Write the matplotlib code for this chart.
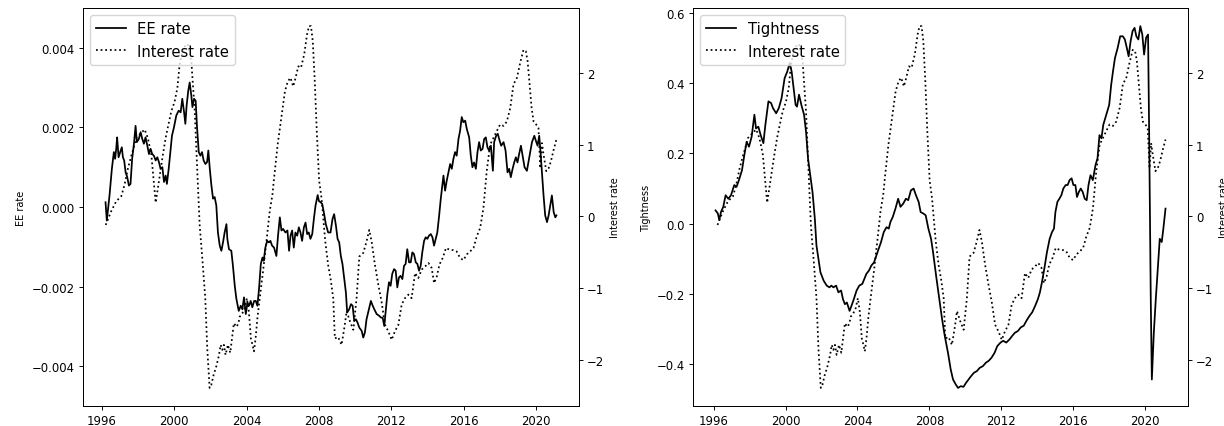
import matplotlib
matplotlib.use("Agg")
import matplotlib.pyplot as plt

# Interest rate (standardised) - shared by both panels
rate_year = [1996.22, 1996.52, 1996.80, 1997.08, 1997.26, 1997.45, 1997.63, 1997.76, 1997.91, 1998.09,
             1998.37, 1998.55, 1998.74, 1998.87, 1998.98, 1999.10, 1999.24, 1999.38, 1999.53, 1999.66,
             1999.84, 2000.03, 2000.18, 2000.30, 2000.50, 2000.75, 2000.95, 2001.14, 2001.25, 2001.41,
             2001.57, 2001.72, 2001.83, 2001.96, 2002.05, 2002.18, 2002.33, 2002.48, 2002.57, 2002.66,
             2002.75, 2002.84, 2002.97, 2003.10, 2003.20, 2003.30, 2003.45, 2003.55, 2003.62, 2003.77,
             2003.90, 2004.02, 2004.13, 2004.24, 2004.33, 2004.41, 2004.50, 2004.60, 2004.73, 2004.91,
             2005.10, 2005.28, 2005.43, 2005.52, 2005.72, 2005.92, 2006.12, 2006.28, 2006.43, 2006.58,
             2006.71, 2006.86, 2007.01, 2007.19, 2007.34, 2007.45, 2007.56, 2007.66, 2007.77, 2007.88,
             2008.01, 2008.14, 2008.35, 2008.51, 2008.65, 2008.79, 2008.88, 2009.06, 2009.25, 2009.43,
             2009.53, 2009.71, 2009.90, 2010.08, 2010.23, 2010.45, 2010.63, 2010.78, 2010.91, 2011.09,
             2011.28, 2011.46, 2011.65, 2011.83, 2012.02, 2012.20, 2012.39, 2012.57, 2012.75, 2012.94,
             2013.12, 2013.31, 2013.49, 2013.68, 2013.86, 2014.05, 2014.23, 2014.36, 2014.51, 2014.66,
             2014.84, 2015.02, 2015.25, 2015.43, 2015.61, 2015.80, 2015.98, 2016.17, 2016.35, 2016.54,
             2016.72, 2016.91, 2017.09, 2017.27, 2017.46, 2017.64, 2017.83, 2018.01, 2018.20, 2018.38,
             2018.57, 2018.75, 2018.94, 2019.12, 2019.30, 2019.43, 2019.53, 2019.64, 2019.75, 2019.86,
             2020.00, 2020.13, 2020.23, 2020.32, 2020.41, 2020.56, 2020.69, 2020.82, 2020.97, 2021.12]
rate = [-0.12, 0.07, 0.21, 0.28, 0.44, 0.67, 0.84, 0.95, 1.09, 1.14,
        1.21, 1.09, 0.86, 0.49, 0.19, 0.39, 0.63, 0.86, 1.09, 1.25,
        1.46, 1.60, 1.79, 2.11, 2.35, 2.40, 2.16, 1.46, 0.80, -0.12,
        -0.63, -1.14, -1.84, -2.39, -2.35, -2.21, -2.09, -1.93, -1.79, -1.86,
        -1.79, -1.93, -1.79, -1.90, -1.70, -1.49, -1.54, -1.49, -1.40, -1.35,
        -1.28, -1.14, -1.33, -1.70, -1.79, -1.88, -1.70, -1.42, -1.14, -0.77,
        -0.35, 0.07, 0.30, 0.53, 1.00, 1.37, 1.74, 1.88, 1.93, 1.81,
        1.93, 2.09, 2.07, 2.26, 2.53, 2.65, 2.65, 2.44, 1.88, 1.19,
        0.50, 0.26, -0.35, -0.68, -0.88, -1.14, -1.70, -1.68, -1.79, -1.51,
        -1.32, -1.46, -1.58, -1.14, -0.56, -0.51, -0.35, -0.19, -0.35, -0.67,
        -0.95, -1.19, -1.51, -1.60, -1.72, -1.60, -1.51, -1.23, -1.14, -1.09,
        -1.14, -0.79, -0.86, -0.74, -0.70, -0.65, -0.72, -0.93, -0.84, -0.67,
        -0.58, -0.44, -0.47, -0.47, -0.49, -0.58, -0.61, -0.53, -0.49, -0.44,
        -0.28, -0.16, 0.12, 0.63, 1.00, 1.09, 1.19, 1.28, 1.26, 1.32,
        1.51, 1.84, 1.93, 2.14, 2.32, 2.30, 2.16, 1.84, 1.51, 1.32,
        1.28, 1.23, 0.67, 1.02, 0.86, 0.63, 0.67, 0.77, 0.93, 1.07]

# EE rate, in units of 1e-3
ee_year = [1996.21, 1996.28, 1996.43, 1996.56, 1996.67, 1996.74, 1996.80, 1996.85, 1996.93, 1997.02,
           1997.11, 1997.17, 1997.24, 1997.32, 1997.41, 1997.50, 1997.59, 1997.68, 1997.78, 1997.87,
           1997.94, 1998.05, 1998.15, 1998.24, 1998.33, 1998.42, 1998.52, 1998.61, 1998.70, 1998.79,
           1998.88, 1998.98, 1999.07, 1999.16, 1999.25, 1999.35, 1999.44, 1999.53, 1999.60, 1999.70,
           1999.79, 1999.88, 1999.99, 2000.12, 2000.25, 2000.36, 2000.45, 2000.55, 2000.62, 2000.69,
           2000.78, 2000.86, 2000.95, 2001.01, 2001.10, 2001.19, 2001.26, 2001.36, 2001.45, 2001.54,
           2001.63, 2001.73, 2001.82, 2001.89, 2001.97, 2002.06, 2002.15, 2002.24, 2002.33, 2002.42,
           2002.52, 2002.61, 2002.70, 2002.79, 2002.89, 2002.94, 2003.03, 2003.16, 2003.25, 2003.35,
           2003.44, 2003.57, 2003.68, 2003.77, 2003.86, 2003.96, 2004.05, 2004.14, 2004.23, 2004.32,
           2004.42, 2004.51, 2004.60, 2004.69, 2004.79, 2004.88, 2004.95, 2005.04, 2005.14, 2005.23,
           2005.32, 2005.41, 2005.52, 2005.65, 2005.74, 2005.84, 2005.93, 2006.02, 2006.15, 2006.26,
           2006.35, 2006.43, 2006.52, 2006.61, 2006.70, 2006.80, 2006.89, 2006.98, 2007.07, 2007.17,
           2007.26, 2007.35, 2007.44, 2007.53, 2007.63, 2007.72, 2007.81, 2007.93, 2008.00, 2008.09,
           2008.18, 2008.27, 2008.38, 2008.51, 2008.64, 2008.75, 2008.84, 2008.94, 2009.03, 2009.12,
           2009.21, 2009.30, 2009.40, 2009.49, 2009.56, 2009.67, 2009.77, 2009.86, 2009.95, 2010.04,
           2010.13, 2010.23, 2010.36, 2010.45, 2010.54, 2010.63, 2010.76, 2010.87, 2010.97, 2011.06,
           2011.19, 2011.32, 2011.43, 2011.52, 2011.61, 2011.68, 2011.78, 2011.87, 2011.96, 2012.05,
           2012.15, 2012.24, 2012.33, 2012.42, 2012.51, 2012.61, 2012.70, 2012.79, 2012.88, 2012.98,
           2013.07, 2013.16, 2013.25, 2013.35, 2013.44, 2013.53, 2013.62, 2013.71, 2013.81, 2013.90,
           2013.99, 2014.08, 2014.18, 2014.27, 2014.36, 2014.45, 2014.54, 2014.64, 2014.73, 2014.88,
           2014.97, 2015.06, 2015.25, 2015.34, 2015.43, 2015.52, 2015.61, 2015.71, 2015.80, 2015.89,
           2015.98, 2016.08, 2016.17, 2016.30, 2016.39, 2016.48, 2016.57, 2016.67, 2016.76, 2016.85,
           2016.94, 2017.04, 2017.13, 2017.22, 2017.31, 2017.40, 2017.50, 2017.61, 2017.68, 2017.79,
           2017.88, 2017.98, 2018.07, 2018.20, 2018.31, 2018.42, 2018.51, 2018.60, 2018.70, 2018.79,
           2018.88, 2018.97, 2019.06, 2019.16, 2019.25, 2019.36, 2019.49, 2019.64, 2019.77, 2019.90,
           2020.01, 2020.08, 2020.17, 2020.23, 2020.32, 2020.41, 2020.50, 2020.60, 2020.69, 2020.78,
           2020.87, 2020.97, 2021.06, 2021.12]
ee_rate = [0.12, -0.34, 0.29, 0.96, 1.38, 1.21, 1.46, 1.75, 1.25, 1.38,
           1.50, 1.25, 1.17, 0.87, 0.75, 0.54, 0.58, 1.21, 1.59, 2.04,
           1.63, 1.71, 1.88, 1.71, 1.59, 1.75, 1.54, 1.33, 1.46, 1.33,
           1.29, 1.17, 1.25, 1.13, 0.96, 1.00, 0.63, 0.79, 0.58, 0.96,
           1.38, 1.79, 2.00, 2.30, 2.42, 2.38, 2.72, 2.38, 2.09, 2.55,
           2.92, 3.13, 2.80, 2.51, 2.72, 2.67, 2.04, 1.38, 1.29, 1.38,
           1.17, 1.08, 1.13, 1.42, 0.96, 0.54, 0.21, 0.25, 0.04, -0.64,
           -0.97, -1.10, -0.89, -0.64, -0.43, -0.80, -1.06, -1.10, -1.48, -1.98,
           -2.31, -2.61, -2.48, -2.57, -2.27, -2.69, -2.40, -2.48, -2.36, -2.52,
           -2.36, -2.36, -2.48, -2.06, -1.43, -1.27, -1.35, -1.02, -0.85, -0.89,
           -0.85, -0.97, -1.02, -1.23, -0.72, -0.26, -0.59, -0.55, -0.64, -0.59,
           -1.10, -0.72, -0.59, -1.02, -0.64, -0.72, -0.51, -0.64, -0.85, -0.51,
           -0.39, -0.68, -0.64, -0.80, -0.68, -0.30, 0.03, 0.30, 0.15, 0.12,
           0.08, -0.13, -0.43, -0.64, -0.64, -0.30, -0.18, -0.47, -0.80, -0.89,
           -1.23, -1.43, -1.81, -2.15, -2.65, -2.57, -2.44, -2.48, -2.86, -2.82,
           -2.90, -3.03, -3.11, -3.28, -3.15, -2.82, -2.57, -2.36, -2.48, -2.57,
           -2.69, -2.73, -2.78, -2.78, -2.99, -2.65, -2.19, -1.89, -1.98, -1.68,
           -1.56, -1.60, -2.02, -1.77, -1.73, -1.81, -1.48, -1.43, -1.06, -1.39,
           -1.39, -1.14, -1.18, -1.39, -1.43, -1.60, -1.48, -1.14, -0.85, -0.76,
           -0.80, -0.72, -0.68, -0.76, -0.97, -0.80, -0.64, -0.22, 0.20, 0.79,
           0.41, 0.66, 1.08, 0.96, 1.21, 1.38, 1.29, 1.71, 1.92, 2.26,
           2.13, 2.17, 1.96, 1.75, 1.29, 1.00, 1.12, 0.96, 1.38, 1.63,
           1.42, 1.46, 1.71, 1.75, 1.50, 1.42, 1.54, 0.91, 1.63, 1.79,
           1.84, 1.67, 1.54, 1.63, 1.42, 0.87, 0.96, 0.75, 0.96, 1.12,
           1.25, 1.12, 1.33, 1.54, 1.29, 1.00, 0.91, 1.29, 1.63, 1.79,
           1.63, 1.54, 1.79, 1.46, 0.87, 0.29, -0.21, -0.38, -0.21, 0.04,
           0.29, -0.13, -0.26, -0.21]

# Labour market tightness
tight_year = [1996.11, 1996.24, 1996.32, 1996.41, 1996.54, 1996.67, 1996.82, 1996.97, 1997.15, 1997.28,
              1997.41, 1997.58, 1997.71, 1997.84, 1997.97, 1998.12, 1998.27, 1998.36, 1998.49, 1998.62,
              1998.77, 1998.88, 1999.05, 1999.20, 1999.30, 1999.48, 1999.63, 1999.78, 1999.95, 2000.10,
              2000.23, 2000.34, 2000.43, 2000.56, 2000.64, 2000.75, 2000.88, 2001.03, 2001.14, 2001.25,
              2001.40, 2001.50, 2001.63, 2001.72, 2001.83, 2001.94, 2002.12, 2002.29, 2002.44, 2002.55,
              2002.66, 2002.81, 2002.94, 2003.09, 2003.19, 2003.30, 2003.41, 2003.56, 2003.67, 2003.80,
              2003.95, 2004.10, 2004.27, 2004.38, 2004.49, 2004.64, 2004.77, 2004.92, 2005.05, 2005.18,
              2005.31, 2005.46, 2005.61, 2005.74, 2005.83, 2005.96, 2006.11, 2006.26, 2006.39, 2006.54,
              2006.69, 2006.82, 2006.97, 2007.12, 2007.25, 2007.40, 2007.51, 2007.66, 2007.79, 2007.94,
              2008.09, 2008.20, 2008.37, 2008.55, 2008.70, 2008.85, 2009.03, 2009.18, 2009.31, 2009.46,
              2009.59, 2009.74, 2009.89, 2010.04, 2010.17, 2010.32, 2010.47, 2010.64, 2010.79, 2010.97,
              2011.14, 2011.29, 2011.45, 2011.62, 2011.77, 2011.95, 2012.10, 2012.27, 2012.45, 2012.60,
              2012.75, 2012.92, 2013.07, 2013.24, 2013.39, 2013.56, 2013.71, 2013.88, 2014.03, 2014.14,
              2014.25, 2014.38, 2014.53, 2014.68, 2014.81, 2014.92, 2015.00, 2015.11, 2015.22, 2015.33,
              2015.44, 2015.57, 2015.68, 2015.79, 2015.90, 2016.00, 2016.11, 2016.20, 2016.30, 2016.41,
              2016.52, 2016.63, 2016.74, 2016.84, 2016.95, 2017.08, 2017.23, 2017.34, 2017.45, 2017.56,
              2017.66, 2017.77, 2017.88, 2017.99, 2018.10, 2018.20, 2018.31, 2018.46, 2018.60, 2018.75,
              2018.86, 2018.97, 2019.07, 2019.18, 2019.29, 2019.40, 2019.50, 2019.61, 2019.72, 2019.83,
              2019.93, 2020.04, 2020.15, 2020.21, 2020.30, 2020.36, 2020.47, 2020.58, 2020.69, 2020.80,
              2020.91, 2021.00, 2021.12]
tightness = [0.038, 0.029, 0.010, 0.033, 0.048, 0.081, 0.071, 0.081, 0.110, 0.105,
             0.124, 0.152, 0.195, 0.233, 0.219, 0.248, 0.310, 0.271, 0.276, 0.252,
             0.229, 0.281, 0.348, 0.343, 0.329, 0.314, 0.329, 0.357, 0.414, 0.433,
             0.457, 0.433, 0.395, 0.338, 0.333, 0.367, 0.338, 0.310, 0.262, 0.186,
             0.129, 0.090, 0.014, -0.062, -0.100, -0.138, -0.162, -0.176, -0.181, -0.176,
             -0.181, -0.176, -0.195, -0.190, -0.214, -0.229, -0.224, -0.248, -0.233, -0.214,
             -0.190, -0.176, -0.171, -0.157, -0.143, -0.133, -0.119, -0.110, -0.090, -0.071,
             -0.052, -0.024, -0.010, -0.014, 0.005, 0.019, 0.043, 0.071, 0.048, 0.057,
             0.071, 0.067, 0.095, 0.100, 0.081, 0.062, 0.033, 0.029, 0.024, -0.014,
             -0.043, -0.081, -0.148, -0.214, -0.271, -0.319, -0.367, -0.414, -0.443, -0.457,
             -0.467, -0.462, -0.464, -0.452, -0.443, -0.433, -0.424, -0.419, -0.410, -0.405,
             -0.395, -0.390, -0.381, -0.367, -0.348, -0.338, -0.333, -0.338, -0.329, -0.319,
             -0.310, -0.305, -0.295, -0.290, -0.276, -0.262, -0.252, -0.233, -0.214, -0.195,
             -0.167, -0.129, -0.081, -0.043, -0.024, -0.014, 0.033, 0.062, 0.071, 0.081,
             0.100, 0.110, 0.110, 0.124, 0.129, 0.110, 0.110, 0.076, 0.090, 0.100,
             0.090, 0.071, 0.067, 0.110, 0.138, 0.124, 0.167, 0.186, 0.252, 0.243,
             0.281, 0.300, 0.319, 0.338, 0.395, 0.433, 0.471, 0.500, 0.533, 0.533,
             0.524, 0.500, 0.476, 0.519, 0.548, 0.557, 0.533, 0.524, 0.562, 0.538,
             0.481, 0.529, 0.538, 0.262, -0.214, -0.443, -0.310, -0.214, -0.129, -0.043,
             -0.052, -0.014, 0.043]

year_ticks = [1996, 2000, 2004, 2008, 2012, 2016, 2020]

plt.rcParams['font.family'] = 'DejaVu Sans'
plt.rcParams['axes.linewidth'] = 0.67

fig = plt.figure(figsize=(12.24, 4.27), dpi=100)
ax_left = fig.add_axes([0.0678, 0.0468, 0.4052, 0.9321])
ax_right = fig.add_axes([0.5662, 0.0468, 0.4044, 0.9321])


def twin_panel(ax, x, y, label, ylim=None):
    # solid series on the left axis, interest rate dotted on the right axis
    line1, = ax.plot(x, y, color='black', lw=1.26, label=label)
    ax2 = ax.twinx()
    line2, = ax2.plot(rate_year, rate, color='black', lw=1.26, ls=':', label='Interest rate')
    if ylim is not None:
        ax.set_ylim(ylim)
    ax.set_xticks(year_ticks, [str(t) for t in year_ticks])
    ax.set_ylabel(label, fontsize=7.0)
    ax2.set_ylabel('Interest rate', fontsize=7.0)
    for a in (ax, ax2):
        a.tick_params(labelsize=8.4, length=2.9, width=0.67, pad=2.9)
        for s in a.spines.values():
            s.set_linewidth(0.67)
    ax2.legend([line1, line2], [label, 'Interest rate'], loc='upper left',
               fontsize=10.6, handlelength=2.0)
    return ax2


twin_panel(ax_left, ee_year, [v / 1000 for v in ee_rate], 'EE rate', ylim=(-0.005, 0.005))
twin_panel(ax_right, tight_year, tightness, 'Tightness')

fig.savefig('out.png', dpi=100)
